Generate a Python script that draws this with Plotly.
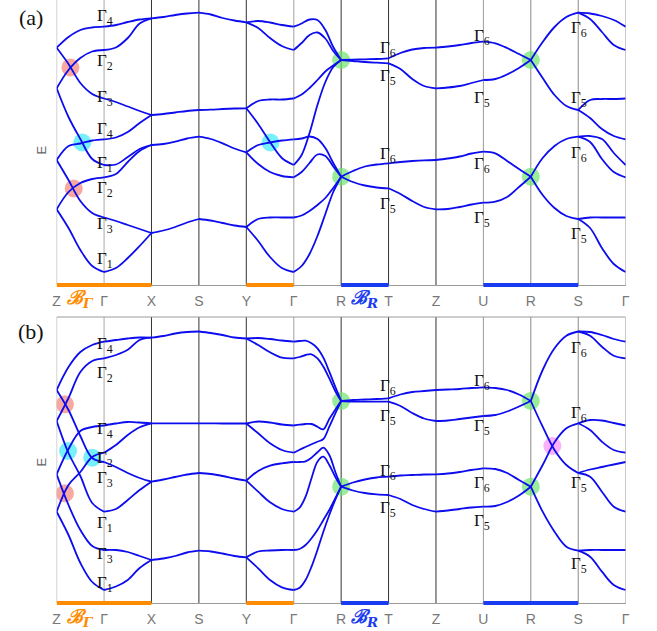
import numpy as np
import plotly.graph_objects as go

# ---------------- tick labels / path ----------------
K_LABELS = ['Z', 'Γ', 'X', 'S', 'Y', 'Γ', 'R', 'T', 'Z', 'U', 'R', 'S', 'Γ']

# ---------------- panel (a): band energies (arb. units) per path segment ----------------
a_ZG = [[237.3, 248, 255, 257.5, 258.3], [196.7, 215, 227, 233.5, 235], [237.3, 221, 202, 191, 186.5],
        [196.7, 168, 146, 126, 120], [125, 139, 141.5, 144.5, 145.7], [125, 105, 84, 72, 67.5],
        [75.7, 93, 102, 106, 107.7], [75.7, 57, 35, 19, 13]]
a_GX = [[258.3, 260, 263, 265.5, 266.7], [235, 237.5, 247, 261.5, 266.7], [186.5, 183, 178.5, 174, 170],
        [145.7, 147.5, 153, 162, 170], [120, 120.5, 128, 136, 140], [107.7, 111, 123, 134, 140],
        [67.5, 64, 60, 56, 52], [13, 17, 27, 39, 52]]
a_XS = [[266.7, 268, 270, 271.5, 272.3], [170, 171, 172.5, 174, 175], [140, 141, 143.3, 146.5, 148.3],
        [52, 54.5, 58, 62.5, 66]]
a_SY = [[272.3, 270.5, 267, 264.5, 262.7], [175, 175.3, 176, 176.5, 176.7], [148.3, 146, 141.7, 136.5, 132.7],
        [66, 64.5, 62, 59.5, 58]]
a_YG = [[262.7, 264, 262.5, 260, 258.3], [262.7, 257, 247, 239, 235], [176.7, 184, 185.5, 185.5, 186.5],
        [176.7, 161, 143, 127, 120], [132.7, 140, 142.5, 144.5, 145.7], [132.7, 121, 113, 109, 107.7],
        [58, 66, 67.5, 67.5, 67.5], [58, 44, 28, 17, 13]]
a_GR = [[258.3, 261.5, 265.5, 265, 255, 238, 225], [235, 242, 250, 252.5, 246.5, 234, 225],
        [186.5, 190.5, 197, 205, 213.5, 219.5, 225], [120, 130, 152, 180, 203, 218, 225],
        [145.7, 146.5, 148.5, 146, 137, 122, 108.3], [107.7, 113, 122, 130.5, 129, 118.5, 108.3],
        [67.5, 69.5, 74, 80, 87, 97, 108.3], [13, 19, 31, 49, 71, 93, 108.3]]
a_RT = [[225, 225.3, 225.7, 226, 226.7], [225, 224, 223, 222.3, 221.7], [108.3, 114, 118.5, 120.5, 121.7],
        [108.3, 103, 99.5, 97.5, 96.7]]
a_TZ = [[226.7, 232, 235.5, 237, 237.3], [221.7, 216, 206, 199, 196.7], [121.7, 123, 124, 124.7, 125],
        [96.7, 91, 84, 78, 75.7]]
a_ZU = [[237.3, 238.5, 240, 242, 243.3], [196.7, 197.5, 199, 202, 205], [125, 126.5, 128.5, 131.5, 133.3],
        [75.7, 76, 78, 80.5, 82.3]]
a_UR = [[243.3, 241.7, 237, 231, 225], [205, 206, 210.5, 217, 225], [133.3, 131.7, 124, 116, 108.3],
        [82.3, 83.3, 88, 98, 108.3]]
a_RS = [[225, 243, 258, 268, 272.3], [225, 207, 190, 179, 175], [108.3, 127, 139, 146, 148.3],
        [108.3, 90, 77, 69, 66]]
a_SG = [[272.3, 271.5, 269, 265, 258.3], [272.3, 266, 253, 240, 235], [175, 185, 186, 186, 186.5],
        [175, 167, 156, 149, 145.7], [148.3, 149, 146, 132, 120], [148.3, 143, 126, 113, 107.7],
        [66, 67.5, 67.5, 67.5, 67.5], [66, 57, 37, 21, 13]]

# ---------------- panel (b) ----------------
b_ZG = [[213, 236, 251, 258, 261.3], [182, 205, 231, 242, 244.7], [213, 193, 167, 145, 141],
        [182, 150, 127, 100, 91.3], [128.7, 154, 172, 176, 177.5], [128.7, 98, 73, 57, 53],
        [91.3, 118, 131, 146, 150.3], [91.3, 68, 40, 21, 13]]
b_GX = [[261.3, 263, 264.5, 265.5, 265.3], [244.7, 248, 253.3, 263, 265.3], [177.5, 179.5, 181, 180.5, 179.7],
        [150.3, 158, 168, 175.7, 179.7], [141, 136, 130, 125, 121.3], [91.3, 94, 103, 113, 121.3],
        [53, 53, 51, 47, 43], [13, 16.5, 23, 35, 43]]
b_XS = [[265.3, 267, 269.5, 271, 271.5], [179.7, 179.7, 179.7, 179.7, 179.7], [121.3, 123.5, 126, 128.5, 130],
        [43, 44.5, 47, 50.5, 52.3]]
b_SY = [[271.5, 270, 268, 265.5, 264.5], [179.7, 179.6, 179.5, 179.5, 179.5], [130, 129, 127, 124.5, 122.3],
        [52.3, 51.5, 49.5, 47, 45.7]]
b_YG = [[264.5, 265, 264, 262.5, 261.3], [264.5, 258, 250.7, 245.3, 244.7], [179.5, 181.5, 180.5, 178.5, 177.5],
        [179.5, 169.7, 159.7, 153, 150.3], [122.3, 132, 137.3, 139.7, 141], [122.3, 111.3, 100.7, 94, 91.3],
        [45.7, 51.5, 52.5, 53, 53], [45.7, 34.7, 23, 15.7, 13]]
b_GR = [[261.3, 262, 262.3, 259.7, 254.7, 245.3, 231.3, 216.3, 202],
        [244.7, 246, 248, 248.7, 244.7, 236.3, 224.7, 212, 202],
        [177.5, 178.3, 179, 179, 176.3, 173.7, 184, 193.3, 202],
        [150.3, 153.3, 156, 158.7, 161.3, 164, 176.3, 189.3, 202],
        [141, 141, 141.7, 145.3, 150.7, 155.3, 148, 131.3, 116.3],
        [91.3, 95.3, 106.3, 124.7, 141.3, 146.3, 138, 126.3, 116.3],
        [53, 54, 58, 64.7, 73, 83, 93, 104.7, 116.3],
        [13, 15.3, 23, 36.3, 53, 71.3, 88, 103, 116.3]]
b_RT = [[202, 203, 203.5, 204, 204.7], [202, 201.5, 201.3, 201.3, 201.3], [116.3, 120.5, 123.5, 125.5, 126.3],
        [116.3, 112.5, 110, 108.7, 108]]
b_TZ = [[204.7, 208.5, 211, 212, 213], [201.3, 197, 190, 184.5, 182], [126.3, 127.5, 128, 128.5, 128.7],
        [108, 104, 98, 94, 91.3]]
b_ZU = [[213, 213.5, 214, 215, 215.7], [182, 182.5, 184, 185.5, 187], [128.7, 129.5, 131, 133, 134.7],
        [91.3, 92.5, 94, 95.5, 96.3]]
b_UR = [[215.7, 215, 213, 208.5, 202], [187, 188, 191.5, 196.5, 202], [134.7, 134, 130, 123, 116.3],
        [96.3, 97, 101, 107.5, 116.3]]
b_RS = [[202, 233, 254.7, 267.3, 271.5], [202, 176.3, 153, 138, 130], [116.3, 138, 160.7, 174.7, 179.7],
        [116.3, 91.3, 71.3, 56.3, 52.3]]
b_SG = [[271.5, 271, 268, 264, 261.3], [271.5, 267.3, 256.3, 247.3, 244.7], [179.7, 183, 182.5, 180, 177.5],
        [179.7, 173, 161.3, 153, 150.3], [130, 133.5, 136, 138.5, 141], [130, 126.3, 111.3, 96.3, 91.3],
        [52.3, 53, 53, 53, 53], [52.3, 46.3, 31.3, 18, 13]]

PANEL_A = [a_ZG, a_GX, a_XS, a_SY, a_YG, a_GR, a_RT, a_TZ, a_ZU, a_UR, a_RS, a_SG]
PANEL_B = [b_ZG, b_GX, b_XS, b_SY, b_YG, b_GR, b_RT, b_TZ, b_ZU, b_UR, b_RS, b_SG]

# ---------------- highlighted crossings (k, E) ----------------
a_pink_k, a_pink_E = [0.29, 0.36], [217.5, 96.5]
a_cyan_k, a_cyan_E = [0.54, 4.51], [142.5, 142.5]
a_green_k, a_green_E = [6, 6, 10, 10], [225, 108.3, 225, 108.3]
b_pink_k, b_pink_E = [0.174, 0.174], [198.7, 109.7]
b_cyan_k, b_cyan_E = [0.24, 0.75], [152, 145.3]
b_green_k, b_green_E = [6, 6, 10, 10], [202, 116.3, 202, 116.3]
b_mag_k, b_mag_E = [10.455], [157]

# ---------------- irrep labels (text, k, E) ----------------
a_labels = [('Γ<sub>4</sub>', 0.8, 268), ('Γ<sub>2</sub>', 0.8, 223), ('Γ<sub>3</sub>', 0.8, 187),
            ('Γ<sub>4</sub>', 0.8, 155), ('Γ<sub>1</sub>', 0.8, 121), ('Γ<sub>2</sub>', 0.8, 96),
            ('Γ<sub>3</sub>', 0.8, 60), ('Γ<sub>1</sub>', 0.8, 25),
            ('Γ<sub>6</sub>', 6.77, 236), ('Γ<sub>5</sub>', 6.77, 208), ('Γ<sub>6</sub>', 6.77, 130), ('Γ<sub>5</sub>', 6.77, 80),
            ('Γ<sub>6</sub>', 8.77, 248), ('Γ<sub>5</sub>', 8.77, 186), ('Γ<sub>6</sub>', 8.77, 120), ('Γ<sub>5</sub>', 8.77, 66),
            ('Γ<sub>6</sub>', 10.8, 256), ('Γ<sub>5</sub>', 10.8, 186), ('Γ<sub>6</sub>', 10.8, 131), ('Γ<sub>5</sub>', 10.8, 50)]
b_labels = [('Γ<sub>4</sub>', 0.8, 257.7), ('Γ<sub>2</sub>', 0.8, 229.3), ('Γ<sub>4</sub>', 0.8, 172.7),
            ('Γ<sub>2</sub>', 0.8, 144.3), ('Γ<sub>3</sub>', 0.8, 124.3), ('Γ<sub>1</sub>', 0.8, 79.3),
            ('Γ<sub>3</sub>', 0.8, 47.7), ('Γ<sub>1</sub>', 0.8, 19.3),
            ('Γ<sub>6</sub>', 6.77, 216), ('Γ<sub>5</sub>', 6.77, 186), ('Γ<sub>6</sub>', 6.77, 131), ('Γ<sub>5</sub>', 6.77, 94),
            ('Γ<sub>6</sub>', 8.77, 221), ('Γ<sub>5</sub>', 8.77, 176), ('Γ<sub>6</sub>', 8.77, 119), ('Γ<sub>5</sub>', 8.77, 81),
            ('Γ<sub>6</sub>', 10.8, 254), ('Γ<sub>6</sub>', 10.8, 189), ('Γ<sub>5</sub>', 10.8, 119), ('Γ<sub>5</sub>', 10.8, 38)]

# ---------------- styling ----------------
BAND_COLOR = 'rgb(12,12,238)'
VLINE_COLORS = ['#9a9a9a', '#a8a8a8', '#333333', '#333333', '#333333', '#bdbdbd', '#333333',
                '#333333', '#333333', '#9a9a9a', '#8a8a8a', '#8a8a8a', '#9a9a9a']
ORANGE = '#ff8c00'
BLUE = '#1a3cf0'
SERIF = 'Liberation Serif, Times New Roman, serif'
SANS = 'Liberation Sans, Arial, sans-serif'

W, H = 657, 631
X0, X1 = 53.3, 629.3
xdom = [X0 / W, X1 / W]
ydom_a = [(H - 285) / H, 1.0]
ydom_b = [(H - 603) / H, (H - 317) / H]


def build(panel):
    xs, ys = [], []
    for i, seg in enumerate(panel):
        for band in seg:
            t = np.linspace(0, 1, len(band))
            xs += list(i + t) + [None]
            ys += list(band) + [None]
    return xs, ys


fig = go.Figure()

def add_markers(k, E, color, xa, ya):
    fig.add_trace(go.Scatter(x=k, y=E, mode='markers', xaxis=xa, yaxis=ya, hoverinfo='skip',
                             marker=dict(size=18, color=color, line=dict(width=0))))

add_markers(a_pink_k, a_pink_E, 'rgba(244,140,128,0.75)', 'x', 'y')
add_markers(a_cyan_k, a_cyan_E, 'rgba(60,235,250,0.7)', 'x', 'y')
add_markers(a_green_k, a_green_E, 'rgba(110,228,110,0.7)', 'x', 'y')
add_markers(b_pink_k, b_pink_E, 'rgba(244,140,128,0.75)', 'x2', 'y2')
add_markers(b_cyan_k, b_cyan_E, 'rgba(60,235,250,0.7)', 'x2', 'y2')
add_markers(b_green_k, b_green_E, 'rgba(110,228,110,0.7)', 'x2', 'y2')
add_markers(b_mag_k, b_mag_E, 'rgba(250,150,250,0.75)', 'x2', 'y2')

for panel, xa, ya in [(PANEL_A, 'x', 'y'), (PANEL_B, 'x2', 'y2')]:
    xs, ys = build(panel)
    fig.add_trace(go.Scatter(x=xs, y=ys, mode='lines', xaxis=xa, yaxis=ya, hoverinfo='skip',
                             line=dict(color=BAND_COLOR, width=1.8, shape='spline', smoothing=1.0),
                             connectgaps=False))

shapes = []
for xa, ya in [('x', 'y'), ('x2', 'y2')]:
    for i, c in enumerate(VLINE_COLORS):
        shapes.append(dict(type='line', xref=xa, yref=ya + ' domain', x0=i, x1=i, y0=0, y1=1,
                           line=dict(color=c, width=1.4 if i == 5 else 1), layer='below'))
    for (k0, k1, c) in [(0, 2, ORANGE), (4, 5, ORANGE), (6, 7, BLUE), (9, 11, BLUE)]:
        shapes.append(dict(type='line', xref=xa, yref=ya + ' domain', x0=k0, x1=k1, y0=0, y1=0,
                           line=dict(color=c, width=4)))
shapes.append(dict(type='line', xref='x2', yref='y2 domain', x0=0, x1=12, y0=1, y1=1,
                   line=dict(color='#9a9a9a', width=1), layer='below'))

annotations = []
for labels, xa, ya in [(a_labels, 'x', 'y'), (b_labels, 'x2', 'y2')]:
    for txt, k, e in labels:
        annotations.append(dict(text=txt, x=k, y=e, xref=xa, yref=ya, xanchor='left', yanchor='middle',
                                showarrow=False, font=dict(family=SERIF, size=17, color='#111')))
# calligraphic segment labels
for yp in [(H - 298) / H, (H - 617) / H]:
    annotations.append(dict(text='<b><i>ℬ</i></b><sub><b><i>Γ</i></b></sub>', x=0.5, y=yp, xref='x', yref='paper',
                            xanchor='center', yanchor='middle', showarrow=False,
                            font=dict(family='DejaVu Serif', size=19, color=ORANGE)))
    annotations.append(dict(text='<b><i>ℬ</i></b><sub><b><i>R</i></b></sub>', x=6.5, y=yp, xref='x', yref='paper',
                            xanchor='center', yanchor='middle', showarrow=False,
                            font=dict(family='DejaVu Serif', size=19, color=BLUE)))
# E axis labels and panel tags
for yp in [(H - 150) / H, (H - 462) / H]:
    annotations.append(dict(text='E', x=37 / W, y=yp, xref='paper', yref='paper', textangle=-90,
                            xanchor='center', yanchor='middle', showarrow=False,
                            font=dict(family=SANS, size=13, color='#666')))
annotations.append(dict(text='(a)', x=27 / W, y=(H - 17) / H, xref='paper', yref='paper', showarrow=False,
                        xanchor='center', yanchor='middle', font=dict(family=SERIF, size=22, color='#111')))
annotations.append(dict(text='(b)', x=27 / W, y=(H - 332) / H, xref='paper', yref='paper', showarrow=False,
                        xanchor='center', yanchor='middle', font=dict(family=SERIF, size=22, color='#111')))

xcommon = dict(domain=xdom, range=[0, 12], tickmode='array', tickvals=list(range(13)), ticktext=K_LABELS,
               showgrid=False, zeroline=False, showline=True, linecolor='#9a9a9a', linewidth=1,
               ticks='', ticklabelstandoff=3, tickfont=dict(family=SANS, size=14, color='#777'), fixedrange=True)
ycommon = dict(showgrid=False, zeroline=False, showticklabels=False, showline=False, ticks='', fixedrange=True)

fig.update_layout(
    width=W, height=H, margin=dict(l=0, r=0, t=0, b=0),
    paper_bgcolor='white', plot_bgcolor='white', showlegend=False,
    xaxis=dict(**xcommon, anchor='y'),
    yaxis=dict(**ycommon, domain=ydom_a, range=[0, 285], anchor='x'),
    xaxis2=dict(**xcommon, anchor='y2'),
    yaxis2=dict(**ycommon, domain=ydom_b, range=[0, 286], anchor='x2'),
    shapes=shapes, annotations=annotations,
)

fig.write_html('out.html', config={'displayModeBar': False},
               post_script="document.body.style.margin='0';document.body.style.overflow='hidden';")
